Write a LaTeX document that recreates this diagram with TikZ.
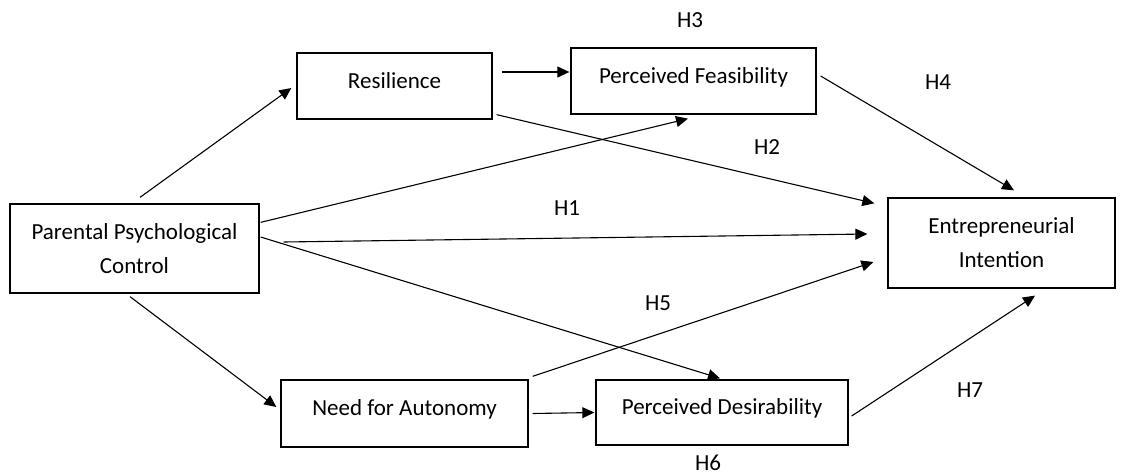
\documentclass[tikz,border=0pt]{standalone}
\usepackage{fontspec}
\setmainfont{Carlito}
\usetikzlibrary{arrows.meta}

\begin{document}
\begin{tikzpicture}[
        x=1pt, y=-1pt,
        >={Triangle[length=12pt,width=11pt]},
        line width=1.1pt,
        every node/.style={font=\fontsize{23}{34}\selectfont},
        box/.style={draw, line width=1.3pt, align=center, inner sep=0pt},
        onebox/.style={box, text height=14pt, text depth=10pt}
    ]
    \useasboundingbox (0,0) rectangle (1128,475);

    % Boxes
    \node[box, minimum width=249pt, minimum height=89pt] (par) at (134.5,248.5)
      {Parental Psychological\\Control};
    \node[onebox, minimum width=195pt, minimum height=66pt] (res) at (394.5,86) {Resilience};
    \node[onebox, minimum width=245pt, minimum height=66pt] (fea) at (693.5,81) {Perceived Feasibility};
    \node[box, minimum width=227pt, minimum height=90pt] (ent) at (1001.5,243)
      {Entrepreneurial\\Intention};
    \node[onebox, minimum width=247pt, minimum height=67pt] (need) at (404.5,413.5) {Need for Autonomy};
    \node[onebox, minimum width=252pt, minimum height=65pt] (des) at (722,412.5) {Perceived Desirability};

    % Hypothesis labels
    \node (h1) at (567,208) {H1};
    \node (h2) at (767,147) {H2};
    \node (h3) at (690,20) {H3};
    \node (h4) at (938,82) {H4};
    \node (h5) at (658,303) {H5};
    \node (h6) at (708,463) {H6};
    \node (h7) at (970,390) {H7};

    % Paths from parental control
    \draw[->] ([shift={(5.5,-6)}]par.north) -- ([shift={(-5,2)}]res.west);
    \draw[->] ([shift={(-4.5,3)}]par.south) -- ([shift={(-4,-6.5)}]need.west);
    \draw[->] ([shift={(1,19)}]par.north east) -- ([shift={(-5.5,4)}]fea.south);
    \draw[->] ([shift={(24,-6.5)}]par.east) -- ([shift={(-20,-9)}]ent.west);
    \draw[->] ([shift={(1,-11.5)}]par.east) -- ([shift={(-2,-1)}]des.north);

    % Mediators
    \draw[->] ([shift={(9,-14)}]res.east) -- ([shift={(-1,-9)}]fea.west);
    \draw[->] ([shift={(4,-5)}]res.south east) -- ([shift={(-13,6)}]ent.north west);
    \draw[->] ([shift={(4,-5)}]fea.east) -- ([shift={(12.5,-7)}]ent.north);
    \draw[->] ([shift={(4,-3)}]need.north east) -- ([shift={(-14,19)}]ent.west);
    \draw[->] ([shift={(4,0)}]need.east) -- ([shift={(-1,0)}]des.west);
    \draw[->] ([shift={(3,3.5)}]des.east) -- ([shift={(33.5,7)}]ent.south);
\end{tikzpicture}
\end{document}
